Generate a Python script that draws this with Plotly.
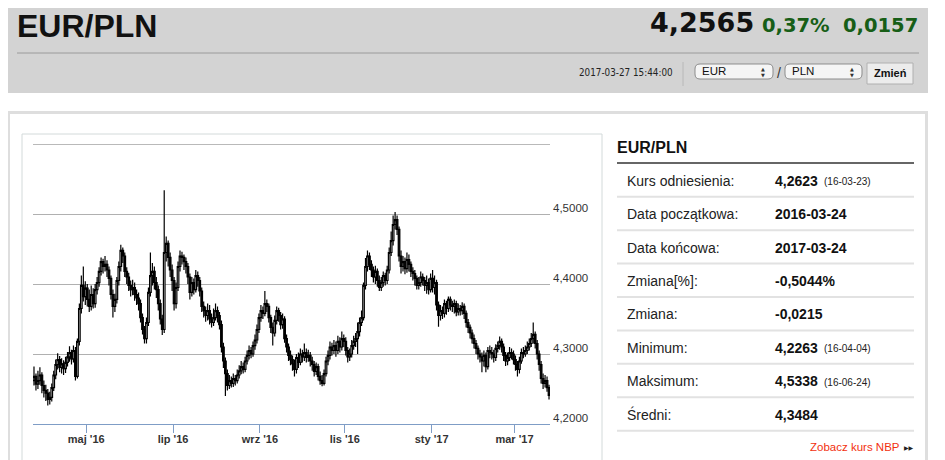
"""
EUR/PLN kurs - wykres świecowy (1 rok) z tabelą statystyk.

Output:
  out.html
"""

import pandas as pd
import plotly.graph_objects as go

# the page body keeps its default 8px margin, so the figure is drawn 8px in
PAGE_W, PAGE_H, BODY_MARGIN = 945, 460, 8
W, H = PAGE_W - BODY_MARGIN, PAGE_H - BODY_MARGIN

PAIR = "EUR/PLN"
QUOTE = "4,2565"
CHANGE_PCT = "0,37%"
CHANGE_ABS = "0,0157"
TIMESTAMP = "2017-03-27 15:44:00"
BASE_CCY = "EUR"
QUOTE_CCY = "PLN"

# trading days 2016-03-24 .. 2017-03-24, one line per week (Mon..Fri)
OPENS = [
    4.262, 4.268,
    4.257, 4.262, 4.270, 4.255, 4.248,
    4.244, 4.235, 4.238, 4.252, 4.270,
    4.285, 4.292, 4.281, 4.286, 4.279,
    4.288, 4.296, 4.302, 4.293, 4.305,
    4.268, 4.318, 4.365, 4.398, 4.382,
    4.394, 4.378, 4.368, 4.385, 4.372,
    4.392, 4.402, 4.418, 4.432, 4.425,
    4.428, 4.420, 4.408, 4.385, 4.368,
    4.378, 4.405, 4.425, 4.448, 4.440,
    4.418, 4.410, 4.398, 4.392, 4.395,
    4.385, 4.380, 4.372, 4.352, 4.335,
    4.322, 4.345, 4.388, 4.412, 4.418,
    4.402, 4.392, 4.372, 4.350, 4.335,
    4.445, 4.458, 4.438, 4.420, 4.405,
    4.372, 4.395, 4.425, 4.440, 4.438,
    4.432, 4.425, 4.410, 4.388, 4.402,
    4.392, 4.412, 4.405, 4.390, 4.368,
    4.362, 4.355, 4.362, 4.350, 4.345,
    4.352, 4.362, 4.355, 4.342, 4.310,
    4.290, 4.272, 4.255, 4.262, 4.258,
    4.265, 4.262, 4.270, 4.276, 4.282,
    4.278, 4.290, 4.298, 4.305, 4.300,
    4.312, 4.320, 4.335, 4.352, 4.362,
    4.358, 4.372, 4.368, 4.352, 4.338,
    4.330, 4.348, 4.362, 4.355, 4.342,
    4.350, 4.322, 4.310, 4.298, 4.292,
    4.286, 4.278, 4.295, 4.288, 4.300,
    4.296, 4.302, 4.295, 4.298, 4.290,
    4.285, 4.275, 4.282, 4.268, 4.262,
    4.258, 4.272, 4.290, 4.298, 4.310,
    4.305, 4.312, 4.305, 4.318, 4.310,
    4.322, 4.318, 4.305, 4.296, 4.300,
    4.312, 4.318, 4.322, 4.332, 4.345,
    4.352, 4.398, 4.425, 4.440, 4.428,
    4.420, 4.410, 4.418, 4.405, 4.395,
    4.402, 4.412, 4.405, 4.420, 4.445,
    4.462, 4.485, 4.492, 4.478, 4.440,
    4.425, 4.432, 4.422, 4.435, 4.428,
    4.418, 4.415, 4.408, 4.398, 4.402,
    4.410, 4.405, 4.398, 4.402, 4.392,
    4.408, 4.395, 4.402, 4.370, 4.355,
    4.362, 4.358, 4.372, 4.365, 4.378,
    4.370, 4.368, 4.372, 4.360, 4.365,
    4.362, 4.368, 4.358, 4.345, 4.338,
    4.330, 4.322, 4.315, 4.308, 4.300,
    4.296, 4.290, 4.298, 4.282, 4.305,
    4.302, 4.300, 4.295, 4.308, 4.312,
    4.318, 4.310, 4.298, 4.290, 4.295,
    4.302, 4.300, 4.292, 4.285, 4.278,
    4.290, 4.302, 4.300, 4.305, 4.310,
    4.315, 4.322, 4.328, 4.315, 4.300,
    4.285, 4.265, 4.258, 4.262, 4.252,
]

HIGHS = [
    4.282, 4.272,
    4.276, 4.281, 4.274, 4.262, 4.256,
    4.250, 4.246, 4.258, 4.276, 4.292,
    4.301, 4.297, 4.294, 4.291, 4.296,
    4.303, 4.311, 4.306, 4.312, 4.310,
    4.322, 4.372, 4.412, 4.425, 4.404,
    4.400, 4.392, 4.398, 4.394, 4.400,
    4.410, 4.424, 4.438, 4.436, 4.440,
    4.434, 4.425, 4.412, 4.392, 4.386,
    4.410, 4.432, 4.456, 4.452, 4.445,
    4.424, 4.416, 4.405, 4.406, 4.402,
    4.392, 4.388, 4.378, 4.358, 4.340,
    4.352, 4.395, 4.445, 4.430, 4.425,
    4.410, 4.398, 4.378, 4.356, 4.5338,
    4.468, 4.462, 4.445, 4.428, 4.410,
    4.402, 4.432, 4.448, 4.446, 4.442,
    4.438, 4.430, 4.415, 4.410, 4.408,
    4.420, 4.418, 4.410, 4.395, 4.375,
    4.368, 4.372, 4.370, 4.358, 4.365,
    4.372, 4.368, 4.360, 4.348, 4.316,
    4.295, 4.278, 4.270, 4.268, 4.272,
    4.270, 4.278, 4.284, 4.290, 4.288,
    4.296, 4.305, 4.312, 4.310, 4.318,
    4.328, 4.342, 4.358, 4.370, 4.368,
    4.390, 4.378, 4.372, 4.356, 4.345,
    4.355, 4.368, 4.366, 4.360, 4.358,
    4.354, 4.328, 4.315, 4.305, 4.298,
    4.292, 4.300, 4.302, 4.308, 4.306,
    4.315, 4.308, 4.306, 4.303, 4.296,
    4.290, 4.288, 4.286, 4.275, 4.270,
    4.278, 4.296, 4.305, 4.318, 4.316,
    4.320, 4.318, 4.326, 4.324, 4.332,
    4.328, 4.324, 4.310, 4.308, 4.320,
    4.326, 4.330, 4.345, 4.352, 4.362,
    4.402, 4.437, 4.448, 4.445, 4.434,
    4.425, 4.426, 4.422, 4.412, 4.410,
    4.418, 4.416, 4.426, 4.452, 4.475,
    4.498, 4.503, 4.498, 4.482, 4.448,
    4.440, 4.438, 4.445, 4.442, 4.432,
    4.424, 4.420, 4.412, 4.410, 4.418,
    4.415, 4.410, 4.412, 4.408, 4.415,
    4.420, 4.412, 4.406, 4.375, 4.370,
    4.368, 4.378, 4.376, 4.382, 4.382,
    4.376, 4.378, 4.376, 4.372, 4.370,
    4.374, 4.372, 4.362, 4.350, 4.342,
    4.335, 4.328, 4.320, 4.312, 4.306,
    4.302, 4.305, 4.302, 4.310, 4.312,
    4.310, 4.306, 4.314, 4.318, 4.325,
    4.322, 4.315, 4.303, 4.302, 4.310,
    4.308, 4.305, 4.298, 4.290, 4.296,
    4.308, 4.310, 4.312, 4.318, 4.322,
    4.330, 4.345, 4.332, 4.320, 4.305,
    4.290, 4.272, 4.270, 4.268, 4.256,
]

LOWS = [
    4.255, 4.248,
    4.250, 4.256, 4.244, 4.238, 4.233,
    4.2263, 4.228, 4.232, 4.247, 4.264,
    4.278, 4.274, 4.272, 4.270, 4.273,
    4.282, 4.289, 4.285, 4.288, 4.262,
    4.265, 4.312, 4.358, 4.375, 4.370,
    4.368, 4.360, 4.362, 4.365, 4.366,
    4.385, 4.396, 4.412, 4.415, 4.418,
    4.410, 4.398, 4.378, 4.352, 4.360,
    4.372, 4.398, 4.418, 4.430, 4.410,
    4.400, 4.390, 4.382, 4.384, 4.376,
    4.370, 4.362, 4.345, 4.328, 4.315,
    4.315, 4.340, 4.382, 4.398, 4.392,
    4.380, 4.362, 4.342, 4.327, 4.330,
    4.432, 4.425, 4.410, 4.390, 4.362,
    4.365, 4.390, 4.418, 4.428, 4.420,
    4.415, 4.400, 4.378, 4.382, 4.385,
    4.388, 4.396, 4.382, 4.360, 4.352,
    4.346, 4.348, 4.342, 4.338, 4.340,
    4.348, 4.345, 4.335, 4.302, 4.280,
    4.240, 4.248, 4.250, 4.252, 4.253,
    4.255, 4.258, 4.265, 4.271, 4.272,
    4.274, 4.285, 4.292, 4.294, 4.296,
    4.306, 4.315, 4.330, 4.346, 4.350,
    4.354, 4.360, 4.345, 4.330, 4.312,
    4.325, 4.342, 4.346, 4.335, 4.336,
    4.316, 4.302, 4.290, 4.284, 4.276,
    4.268, 4.272, 4.280, 4.284, 4.288,
    4.290, 4.288, 4.289, 4.282, 4.276,
    4.268, 4.270, 4.262, 4.256, 4.254,
    4.255, 4.268, 4.284, 4.292, 4.298,
    4.300, 4.296, 4.300, 4.302, 4.305,
    4.310, 4.298, 4.288, 4.290, 4.295,
    4.306, 4.310, 4.300, 4.325, 4.340,
    4.348, 4.392, 4.418, 4.420, 4.410,
    4.402, 4.400, 4.396, 4.390, 4.390,
    4.396, 4.398, 4.400, 4.415, 4.440,
    4.455, 4.478, 4.470, 4.432, 4.415,
    4.418, 4.414, 4.416, 4.418, 4.410,
    4.405, 4.398, 4.392, 4.392, 4.396,
    4.398, 4.390, 4.386, 4.385, 4.388,
    4.388, 4.385, 4.362, 4.339, 4.348,
    4.350, 4.352, 4.356, 4.360, 4.362,
    4.360, 4.358, 4.354, 4.355, 4.355,
    4.356, 4.350, 4.338, 4.330, 4.322,
    4.315, 4.308, 4.300, 4.292, 4.288,
    4.274, 4.282, 4.274, 4.278, 4.294,
    4.292, 4.288, 4.290, 4.302, 4.306,
    4.302, 4.290, 4.283, 4.284, 4.290,
    4.292, 4.285, 4.276, 4.268, 4.272,
    4.286, 4.294, 4.296, 4.300, 4.305,
    4.310, 4.315, 4.308, 4.292, 4.276,
    4.258, 4.250, 4.252, 4.246, 4.235,
]

CLOSES = [
    4.268, 4.257,
    4.262, 4.270, 4.255, 4.248, 4.244,
    4.235, 4.238, 4.252, 4.270, 4.285,
    4.292, 4.281, 4.286, 4.279, 4.288,
    4.296, 4.302, 4.293, 4.305, 4.268,
    4.318, 4.365, 4.398, 4.382, 4.394,
    4.378, 4.368, 4.385, 4.372, 4.392,
    4.402, 4.418, 4.432, 4.425, 4.428,
    4.420, 4.408, 4.385, 4.368, 4.378,
    4.405, 4.425, 4.448, 4.440, 4.418,
    4.410, 4.398, 4.392, 4.395, 4.385,
    4.380, 4.372, 4.352, 4.335, 4.322,
    4.345, 4.388, 4.412, 4.418, 4.402,
    4.392, 4.372, 4.350, 4.335, 4.445,
    4.458, 4.438, 4.420, 4.405, 4.372,
    4.395, 4.425, 4.440, 4.438, 4.432,
    4.425, 4.410, 4.388, 4.402, 4.392,
    4.412, 4.405, 4.390, 4.368, 4.362,
    4.355, 4.362, 4.350, 4.345, 4.352,
    4.362, 4.355, 4.342, 4.310, 4.290,
    4.272, 4.255, 4.262, 4.258, 4.265,
    4.262, 4.270, 4.276, 4.282, 4.278,
    4.290, 4.298, 4.305, 4.300, 4.312,
    4.320, 4.335, 4.352, 4.362, 4.358,
    4.372, 4.368, 4.352, 4.338, 4.330,
    4.348, 4.362, 4.355, 4.342, 4.350,
    4.322, 4.310, 4.298, 4.292, 4.286,
    4.278, 4.295, 4.288, 4.300, 4.296,
    4.302, 4.295, 4.298, 4.290, 4.285,
    4.275, 4.282, 4.268, 4.262, 4.258,
    4.272, 4.290, 4.298, 4.310, 4.305,
    4.312, 4.305, 4.318, 4.310, 4.322,
    4.318, 4.305, 4.296, 4.300, 4.312,
    4.318, 4.322, 4.332, 4.345, 4.352,
    4.398, 4.425, 4.440, 4.428, 4.420,
    4.410, 4.418, 4.405, 4.395, 4.402,
    4.412, 4.405, 4.420, 4.445, 4.462,
    4.485, 4.492, 4.478, 4.440, 4.425,
    4.432, 4.422, 4.435, 4.428, 4.418,
    4.415, 4.408, 4.398, 4.402, 4.410,
    4.405, 4.398, 4.402, 4.392, 4.408,
    4.395, 4.402, 4.370, 4.355, 4.362,
    4.358, 4.372, 4.365, 4.378, 4.370,
    4.368, 4.372, 4.360, 4.365, 4.362,
    4.368, 4.358, 4.345, 4.338, 4.330,
    4.322, 4.315, 4.308, 4.300, 4.296,
    4.290, 4.298, 4.282, 4.305, 4.302,
    4.300, 4.295, 4.308, 4.312, 4.318,
    4.310, 4.298, 4.290, 4.295, 4.302,
    4.300, 4.292, 4.285, 4.278, 4.290,
    4.302, 4.300, 4.305, 4.310, 4.315,
    4.322, 4.328, 4.315, 4.300, 4.285,
    4.265, 4.258, 4.262, 4.252, 4.241,
]

Y_TICKS = [4.2, 4.3, 4.4, 4.5]
X_TICKS = ["2016-05-02", "2016-07-01", "2016-09-01", "2016-11-01", "2017-01-02", "2017-03-01"]
X_TICK_TEXT = ["maj '16", "lip '16", "wrz '16", "lis '16", "sty '17", "mar '17"]

STAT_LABELS = ["Kurs odniesienia:", "Data początkowa:", "Data końcowa:", "Zmiana[%]:",
               "Zmiana:", "Minimum:", "Maksimum:", "Średni:"]
STAT_VALUES = ["4,2623", "2016-03-24", "2017-03-24", "-0,5044%",
               "-0,0215", "4,2263", "4,5338", "4,3484"]
STAT_DATES = ["(16-03-23)", "", "", "", "", "(16-04-04)", "(16-06-24)", ""]

ARIAL = "Liberation Sans, Arial, sans-serif"
CONDENSED = "DejaVu Sans Condensed, Liberation Sans, sans-serif"
DEJAVU = "DejaVu Sans, sans-serif"
GREEN = "#175e17"


# page pixel -> paper coordinate
def px(x):
    return (x - BODY_MARGIN) / W


def py(y):
    return 1 - (y - BODY_MARGIN) / H


def rrect(x0, y0, x1, y1, r):
    pts = [
        ("M", [(x0 + r, y0)]), ("L", [(x1 - r, y0)]), ("Q", [(x1, y0), (x1, y0 + r)]),
        ("L", [(x1, y1 - r)]), ("Q", [(x1, y1), (x1 - r, y1)]), ("L", [(x0 + r, y1)]),
        ("Q", [(x0, y1), (x0, y1 - r)]), ("L", [(x0, y0 + r)]), ("Q", [(x0, y0), (x0 + r, y0)]),
    ]
    out = []
    for cmd, coords in pts:
        out.append(cmd + " " + " ".join(f"{px(a):.5f},{py(b):.5f}" for a, b in coords))
    return " ".join(out) + " Z"


def rect(x0, y0, x1, y1, fill=None, line=None, lw=1):
    return dict(type="rect", xref="paper", yref="paper", x0=px(x0), x1=px(x1), y0=py(y1), y1=py(y0),
                fillcolor=fill or "rgba(0,0,0,0)", line=dict(color=line or "rgba(0,0,0,0)", width=lw if line else 0),
                layer="below")


def hline(x0, x1, y, color, lw=1):
    return dict(type="line", xref="paper", yref="paper", x0=px(x0), x1=px(x1), y0=py(y), y1=py(y),
                line=dict(color=color, width=lw), layer="below")


def text(x, y, s, size, color="#222", family=ARIAL, bold=False, anchor="left"):
    return dict(x=px(x), y=py(y), xref="paper", yref="paper", text=s, showarrow=False,
                xanchor=anchor, yanchor="middle",
                font=dict(size=size, color=color, family=family, weight="bold" if bold else "normal"))


dates = pd.bdate_range("2016-03-24", "2017-03-24")
assert len(dates) == len(CLOSES) == len(OPENS) == len(HIGHS) == len(LOWS)

fig = go.Figure()
fig.add_trace(go.Candlestick(
    x=dates + pd.Timedelta(hours=12),
    open=OPENS, high=HIGHS, low=LOWS, close=CLOSES,
    increasing=dict(line=dict(color="#000000", width=1.2), fillcolor="#ffffff"),
    decreasing=dict(line=dict(color="#000000", width=1.2), fillcolor="#000000"),
    whiskerwidth=0,
    showlegend=False,
))

shapes = [
    # header
    rect(7, 0, 928, 93, fill="#d3d3d3"),
    hline(17, 919, 53, "#9a9a9a"),
    dict(type="line", xref="paper", yref="paper", x0=px(683), x1=px(683), y0=py(86), y1=py(62),
         line=dict(color="#b8b8b8", width=1), layer="below"),
    dict(type="path", xref="paper", yref="paper", path=rrect(695, 64, 773, 79, 5),
         fillcolor="#f5f5f5", line=dict(color="#8c8c8c", width=1), layer="below"),
    dict(type="path", xref="paper", yref="paper", path=rrect(785, 64, 862, 79, 5),
         fillcolor="#f5f5f5", line=dict(color="#8c8c8c", width=1), layer="below"),
    rect(867, 63, 913, 84, fill="#ececec", line="#b0b0b0"),
    # containers
    rect(8.5, 112.5, 926.5, 480, fill="#ffffff", line="#dedede", lw=3),
    rect(22, 134, 602, 480, line="#d3dada"),
    # table
    hline(617, 914, 163, "#666666", 2),
    # top border of the chart (4,6000 level)
    dict(type="line", xref="x domain", yref="y", x0=0, x1=1, y0=4.6, y1=4.6,
         line=dict(color="#b9b9b9", width=2), layer="below"),
]
for i in range(len(STAT_LABELS)):
    shapes.append(hline(617, 914, 196.7 + 33.43 * i, "#e2e2e2", 2))

annotations = [
    text(15, 26, PAIR, 32, "#111111", ARIAL, True),
    text(756, 22.5, QUOTE, 27, "#111111", DEJAVU, True, "right"),
    text(760, 25, CHANGE_PCT, 19.5, GREEN, DEJAVU, True),
    text(920, 25, CHANGE_ABS, 19.5, GREEN, DEJAVU, True, "right"),
    text(675, 72, TIMESTAMP, 9.8, "#222222", CONDENSED, anchor="right"),
    text(700, 71.5, BASE_CCY, 11.5, "#111111"),
    text(790, 71.5, QUOTE_CCY, 11.5, "#111111"),
    text(779, 72.5, "/", 14, "#333333", anchor="center"),
    text(763, 68.5, "▲", 5, "#333333", DEJAVU, anchor="center"),
    text(763, 74.5, "▼", 5, "#333333", DEJAVU, anchor="center"),
    text(852, 68.5, "▲", 5, "#333333", DEJAVU, anchor="center"),
    text(852, 74.5, "▼", 5, "#333333", DEJAVU, anchor="center"),
    text(890, 73.5, "Zmień", 11, "#111111", ARIAL, True, "center"),
    text(615, 147, PAIR, 16, "#111111", ARIAL, True),
    text(902, 447, "Zobacz kurs NBP", 11.5, "#f2300e", ARIAL, anchor="right"),
    text(909, 447.5, "▶▶", 6, "#222222", DEJAVU, anchor="center"),
]
for i, (lab, val, dt) in enumerate(zip(STAT_LABELS, STAT_VALUES, STAT_DATES)):
    yc = 180.7 + 33.43 * i
    annotations.append(text(625, yc, lab, 14, "#222222"))
    annotations.append(text(773, yc, val, 14, "#111111", ARIAL, True))
    if dt:
        annotations.append(text(822, yc + 1, dt, 10, "#222222"))

fig.update_layout(
    width=W, height=H,
    margin=dict(l=0, r=0, t=0, b=0),
    paper_bgcolor="#ffffff",
    plot_bgcolor="rgba(0,0,0,0)",
    separators=",.",
    showlegend=False,
    boxgap=0.1,
    boxgroupgap=0.1,
    shapes=shapes,
    annotations=annotations,
    xaxis=dict(
        type="date",
        domain=[px(33), px(550)],
        range=["2016-03-24 00:00", "2017-03-24 23:59"],
        rangebreaks=[dict(bounds=["sat", "mon"])],
        rangeslider=dict(visible=False),
        showgrid=False,
        zeroline=False,
        showline=True, linecolor="#7f9dc6", linewidth=1,
        ticks="outside", ticklen=8, tickcolor="#7f9dc6",
        ticklabelstandoff=-3,
        tickvals=X_TICKS, ticktext=X_TICK_TEXT,
        tickfont=dict(size=11, color="#333333", family=ARIAL, weight="bold"),
    ),
    yaxis=dict(
        domain=[py(424), py(144)],
        range=[4.2, 4.6],
        side="right",
        tickvals=Y_TICKS,
        tickformat=".4f",
        showgrid=True, gridcolor="#b0b0b0", gridwidth=1,
        zeroline=False, showline=False, ticks="",
        ticklabelshift=-6, ticklabelstandoff=2,
        tickfont=dict(size=11.5, color="#333333", family=ARIAL),
    ),
)

fig.write_html("out.html")
